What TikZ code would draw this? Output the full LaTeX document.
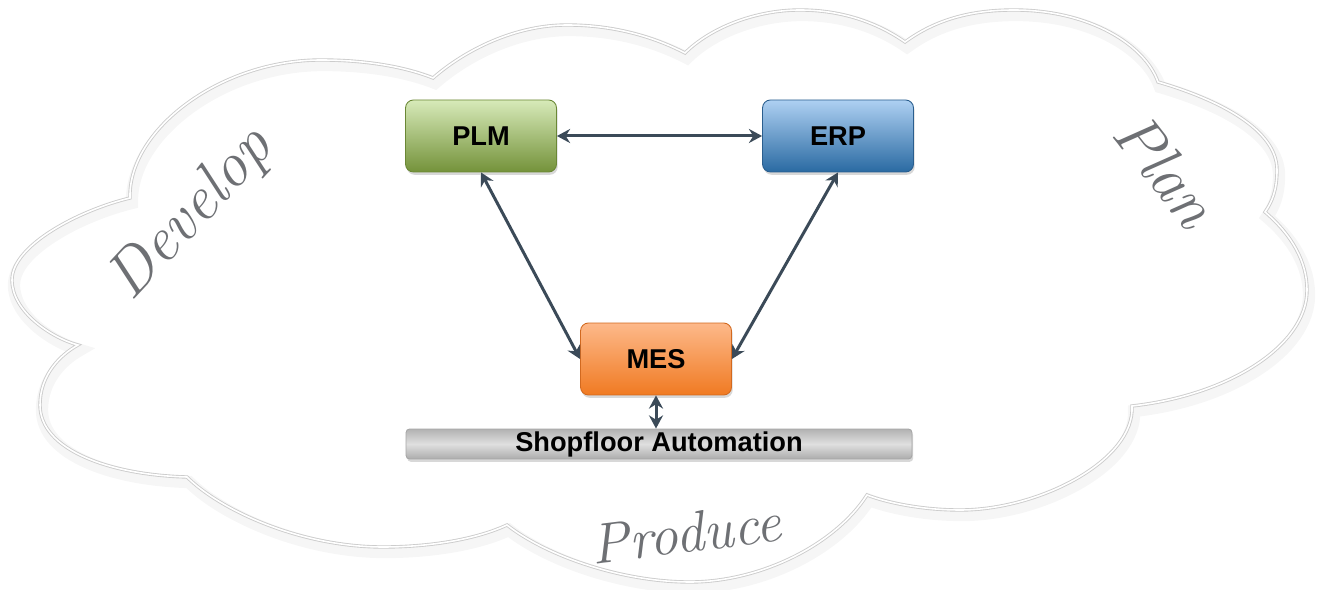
\documentclass[tikz,border=0pt]{standalone}
\usepackage{fontspec}
\setsansfont{Liberation Sans}
\usetikzlibrary{arrows.meta,shadows}
\definecolor{linkcol}{HTML}{3B4A58}
\definecolor{plmtop}{HTML}{D7EAB9}
\definecolor{plmbot}{HTML}{74923A}
\definecolor{plmdraw}{HTML}{6A8735}
\definecolor{erptop}{HTML}{AED0F2}
\definecolor{erpbot}{HTML}{2A6AA2}
\definecolor{erpdraw}{HTML}{2A5E8E}
\definecolor{mestop}{HTML}{FDB98A}
\definecolor{mesbot}{HTML}{F07A22}
\definecolor{mesdraw}{HTML}{D2691F}
\definecolor{handcol}{HTML}{6E7074}
\tikzset{
  box/.style={rounded corners=4.5pt, minimum width=3.02cm, minimum height=1.44cm,
    inner sep=0pt, line width=0.5pt,
    font=\sffamily\bfseries\fontsize{15.5}{18}\selectfont,
    drop shadow={shadow xshift=0.7pt, shadow yshift=-1.6pt, opacity=0.3}},
  plmbox/.style={box, draw=plmdraw, top color=plmtop, bottom color=plmbot},
  erpbox/.style={box, draw=erpdraw, top color=erptop, bottom color=erpbot},
  mesbox/.style={box, draw=mesdraw, top color=mestop, bottom color=mesbot},
  barbox/.style={rounded corners=2pt, minimum width=10.12cm, minimum height=0.6cm,
    inner sep=0pt, draw=gray!70, line width=0.5pt,
    top color=gray!60, bottom color=gray!65, middle color=gray!25,
    font=\sffamily\bfseries\fontsize{15.5}{18}\selectfont,
    drop shadow={shadow xshift=0.7pt, shadow yshift=-1.6pt, opacity=0.3}},
  link/.style={draw=linkcol, line width=1.7pt,
    {Stealth[length=7.5pt,width=8pt,inset=2.5pt]}-{Stealth[length=7.5pt,width=8pt,inset=2.5pt]}},
  cloudline/.style={draw=black!20, line width=0.5pt, double=white, double distance=0.9pt, line join=miter},
  cloudshadow/.style={draw=black, opacity=0.035, line width=7pt},
  hand/.style={text=handcol, inner sep=0pt},
}
\begin{document}
\begin{tikzpicture}[x=0.02cm, y=-0.02cm]
\useasboundingbox (0,0) rectangle (1321,590);
\fill[white] (0,0) rectangle (1321,590);

\def\cloudpath{
  (78,345) .. controls (52,338) and (12,312) .. (12,280)
           .. controls (12,245) and (80,210) .. (130,198)
           .. controls (128,130) and (220,60) .. (321,60)
           .. controls (370,60) and (408,68) .. (433,78)
           .. controls (465,50) and (515,25) .. (567,25)
           .. controls (620,25) and (660,40) .. (685,53)
           .. controls (710,28) and (755,10) .. (800,10)
           .. controls (850,10) and (885,28) .. (905,42)
           .. controls (935,20) and (970,10) .. (1014,10)
           .. controls (1090,10) and (1145,45) .. (1158,82)
           .. controls (1220,100) and (1277,130) .. (1277,170)
           .. controls (1277,190) and (1272,202) .. (1265,212)
           .. controls (1292,235) and (1307,262) .. (1307,290)
           .. controls (1307,345) and (1230,395) .. (1132,406)
           .. controls (1135,460) and (1040,510) .. (960,510)
           .. controls (920,510) and (885,502) .. (867,495)
           .. controls (835,545) and (760,582) .. (690,582)
           .. controls (620,582) and (545,555) .. (507,525)
           .. controls (470,542) and (420,547) .. (383,547)
           .. controls (300,547) and (220,510) .. (187,477)
           .. controls (110,475) and (40,450) .. (40,405)
           .. controls (40,375) and (60,355) .. (78,345) -- cycle}

% cloud shadow and outline
\begin{scope}[shift={(2,5)}]
  \draw[cloudshadow] \cloudpath;
\end{scope}
\draw[cloudline] \cloudpath;

% handwritten labels
\node[hand, rotate=47, font=\rmfamily\itshape\fontsize{36}{40}\selectfont] (develop) at (192,215) {Develop};
\node[hand, rotate=-52, font=\rmfamily\itshape\fontsize{36}{40}\selectfont] (plan) at (1166,170) {Plan};
\node[hand, rotate=7, font=\rmfamily\itshape\fontsize{32.5}{36}\selectfont] (produce) at (686,533) {Produce};

% system boxes
\node[plmbox] (plm) at (481,136) {PLM};
\node[erpbox] (erp) at (838,136) {ERP};
\node[mesbox] (mes) at (656,359) {MES};
\node[barbox] (bar) at (659,444) {Shopfloor Automation};

% connectors
\draw[link] (plm.east) -- (erp.west);
\draw[link] (plm.south) -- (mes.west);
\draw[link] (erp.south) -- (mes.east);
\draw[link] (mes.south) -- (mes.south |- bar.north);
\end{tikzpicture}
\end{document}
